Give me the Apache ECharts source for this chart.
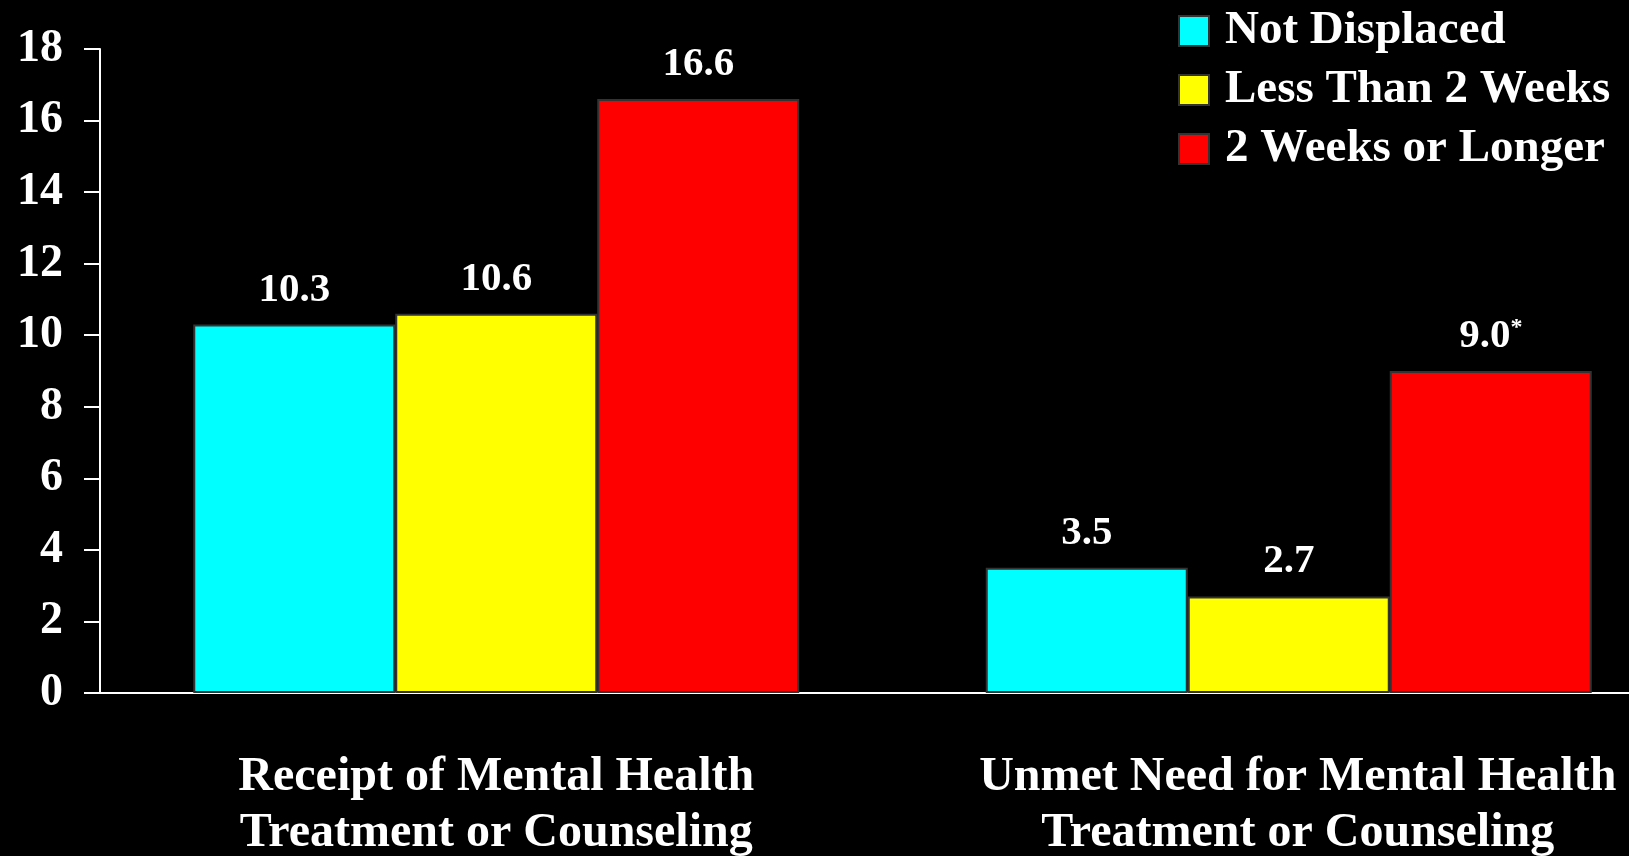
<!DOCTYPE html>
<html>
<head>
<meta charset="utf-8">
<script src="https://cdn.jsdelivr.net/npm/echarts@6/dist/echarts.min.js"></script>
<style>
html,body{margin:0;padding:0;background:#000;}
#chart{width:1629px;height:856px;}
</style>
</head>
<body>
<div id="chart"></div>
<script>
var categories = ['Receipt of Mental Health\nTreatment or Counseling', 'Unmet Need for Mental Health\nTreatment or Counseling'];
var seriesNames = ['Not Displaced', 'Less Than 2 Weeks', '2 Weeks or Longer'];
var notDisplaced = [10.3, 3.5];
var lessThan2Weeks = [10.6, 2.7];
var twoWeeksOrLonger = [16.6, 9.0];
var significance = [['', ''], ['', ''], ['', '*']];
var yTicks = [0, 2, 4, 6, 8, 10, 12, 14, 16, 18];

var colors = ['#00FFFF', '#FFFF00', '#FF0000'];
var seriesValues = [notDisplaced, lessThan2Weeks, twoWeeksOrLonger];
var FONT = 'Liberation Serif';

var chart = echarts.init(document.getElementById('chart'));

var series = seriesValues.map(function (vals, si) {
  return {
    name: seriesNames[si],
    type: 'bar',
    data: vals,
    barWidth: 202,
    barGap: '0%',
    itemStyle: { color: colors[si], borderColor: '#333333', borderWidth: 2 },
    label: {
      show: true,
      position: 'top',
      distance: 14,
      formatter: function (p) {
        var txt = p.value.toFixed(1);
        var mark = significance[p.seriesIndex][p.dataIndex];
        return mark ? '{v|' + txt + '}{s|' + mark + '}' : '{v|' + txt + '}';
      },
      rich: {
        v: { color: '#fff', fontFamily: FONT, fontWeight: 'bold', fontSize: 41, lineHeight: 41, verticalAlign: 'bottom' },
        s: { color: '#fff', fontFamily: FONT, fontWeight: 'bold', fontSize: 24, lineHeight: 24, verticalAlign: 'top', padding: [0, 0, 24, 0] }
      }
    }
  };
});

var option = {
  backgroundColor: '#000000',
  animation: false,
  legend: {
    orient: 'vertical',
    left: 1178,
    top: 6,
    padding: 0,
    itemWidth: 30,
    itemHeight: 30,
    itemGap: 9,
    icon: 'rect',
    itemStyle: { borderColor: '#333333', borderWidth: 2 },
    textStyle: { color: '#fff', fontFamily: FONT, fontWeight: 'bold', fontSize: 47, lineHeight: 50, padding: [0, 0, 0, 11] },
    data: seriesNames
  },
  grid: { left: 100, width: 1585, top: 49, bottom: 163, containLabel: false, outerBoundsMode: 'none' },
  xAxis: {
    type: 'category',
    data: categories,
    axisLine: { show: true, lineStyle: { color: '#fff', width: 2 } },
    axisTick: { show: false },
    axisLabel: {
      margin: 57,
      interval: 0,
      formatter: function (val, idx) {
        return idx === 1 ? '{b|' + val + '}' : '{a|' + val + '}';
      },
      rich: {
        a: { color: '#fff', fontFamily: FONT, fontWeight: 'bold', fontSize: 48, lineHeight: 56 },
        b: { color: '#fff', fontFamily: FONT, fontWeight: 'bold', fontSize: 48, lineHeight: 56, padding: [0, 0, 0, 18] }
      }
    }
  },
  yAxis: {
    type: 'value',
    min: yTicks[0],
    max: yTicks[yTicks.length - 1],
    interval: yTicks[1] - yTicks[0],
    splitLine: { show: false },
    axisLine: { show: true, lineStyle: { color: '#fff', width: 2 } },
    axisTick: { show: true, length: 16, lineStyle: { color: '#fff', width: 2 } },
    axisLabel: {
      margin: 37,
      color: '#fff',
      fontFamily: FONT,
      fontWeight: 'bold',
      fontSize: 46,
      padding: [11, 0, 0, 0]
    }
  },
  series: series
};

chart.setOption(option);
</script>
</body>
</html>
